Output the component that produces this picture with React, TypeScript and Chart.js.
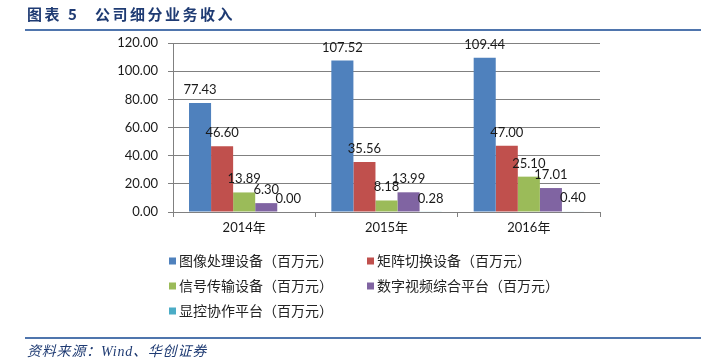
import React, { useEffect, useRef } from "react";
import { Chart, registerables } from "chart.js";

Chart.register(...registerables);

const categories = ["2014年", "2015年", "2016年"];
const seriesNames = [
  "图像处理设备（百万元）",
  "矩阵切换设备（百万元）",
  "信号传输设备（百万元）",
  "数字视频综合平台（百万元）",
  "显控协作平台（百万元）",
];
const imageProcessing = [77.43, 107.52, 109.44];
const matrixSwitching = [46.6, 35.56, 47.0];
const signalTransmission = [13.89, 8.18, 25.1];
const digitalVideo = [6.3, 13.99, 17.01];
const displayControl = [0.0, 0.28, 0.4];
const seriesColors = ["#4F81BD", "#C0504D", "#9BBB59", "#8064A2", "#4BACC6"];
const yMin = 0;
const yMax = 120;
const yStep = 20;

const TEXT_FONT = "Lato, 'Noto Sans CJK SC', sans-serif";
const CJK_FONT = "'Noto Sans CJK SC', sans-serif";

const valueLabelPlugin = {
  id: "valueLabels",
  afterDatasetsDraw(chart: any) {
    const ctx = chart.ctx;
    ctx.save();
    ctx.font = `13px ${TEXT_FONT}`;
    ctx.fillStyle = "#1a1a1a";
    ctx.textAlign = "center";
    ctx.textBaseline = "alphabetic";
    chart.data.datasets.forEach((ds: any, i: number) => {
      const meta = chart.getDatasetMeta(i);
      meta.data.forEach((el: any, j: number) => {
        const v = ds.data[j] as number;
        ctx.fillText(v.toFixed(2), el.x, el.y - 9);
      });
    });
    ctx.restore();
  },
};

const legendPlugin = {
  id: "gridLegend",
  afterDraw(chart: any) {
    const ctx = chart.ctx;
    const area = chart.chartArea;
    ctx.save();
    ctx.font = `14px ${CJK_FONT}`;
    ctx.textBaseline = "middle";
    ctx.textAlign = "left";
    chart.data.datasets.forEach((ds: any, i: number) => {
      const col = i % 2;
      const row = Math.floor(i / 2);
      const x = area.left - 4 + col * 198;
      const y = area.bottom + 49 + row * 25;
      ctx.fillStyle = ds.backgroundColor;
      ctx.fillRect(x, y - 3.5, 7, 7);
      ctx.fillStyle = "#222";
      ctx.fillText(ds.label, x + 10, y);
    });
    ctx.restore();
  },
};

export default function App() {
  const ref = useRef<HTMLCanvasElement>(null);
  useEffect(() => {
    if (!ref.current) return;
    const values = [imageProcessing, matrixSwitching, signalTransmission, digitalVideo, displayControl];
    const chart = new Chart(ref.current, {
      type: "bar",
      data: {
        labels: categories,
        datasets: values.map((d, i) => ({
          label: seriesNames[i],
          data: d,
          backgroundColor: seriesColors[i],
          borderWidth: 0,
          categoryPercentage: 0.775,
          barPercentage: 1,
        })),
      },
      options: {
        responsive: false,
        animation: false,
        devicePixelRatio: 1,
        layout: { padding: { top: 43, right: 122, left: 0, bottom: 0 } },
        plugins: {
          legend: { display: false },
          tooltip: { enabled: false },
          title: { display: false },
        },
        scales: {
          x: {
            grid: {
              offset: true,
              drawOnChartArea: false,
              drawTicks: true,
              tickLength: 5,
              color: "#808080",
            },
            border: { color: "#808080", width: 1 },
            ticks: {
              font: { size: 13, family: TEXT_FONT },
              color: "#1a1a1a",
              padding: 3,
            },
            afterFit(scale: any) {
              scale.height = 150;
            },
          },
          y: {
            min: yMin,
            max: yMax,
            ticks: {
              stepSize: yStep,
              font: { size: 13, family: TEXT_FONT },
              color: "#1a1a1a",
              padding: 10,
              callback: (v: any) => Number(v).toFixed(2),
            },
            grid: { color: "#808080", tickLength: 5 },
            border: { color: "#808080", width: 1 },
            afterFit(scale: any) {
              scale.width = 173;
            },
          },
        },
      },
      plugins: [valueLabelPlugin, legendPlugin],
    });
    return () => chart.destroy();
  }, []);

  const titleStyle: React.CSSProperties = {
    position: "absolute",
    top: 4,
    fontFamily: CJK_FONT,
    fontWeight: 700,
    fontSize: 15,
    letterSpacing: 2.5,
    color: "#1F3B73",
    whiteSpace: "pre",
    lineHeight: "20px",
  };

  return (
    <div
      style={{
        position: "fixed",
        left: 0,
        top: 0,
        width: 722,
        height: 362,
        background: "#fff",
        overflow: "hidden",
      }}
    >
      <canvas ref={ref} width={722} height={362} style={{ position: "absolute", left: 0, top: 0, width: 722, height: 362 }} />
      <div style={{ ...titleStyle, left: 27 }}>图表 5</div>
      <div style={{ ...titleStyle, left: 95 }}>公司细分业务收入</div>
      <div style={{ position: "absolute", left: 25, top: 29, width: 676, height: 2, background: "#4F75AD" }} />
      <div style={{ position: "absolute", left: 25, top: 337, width: 676, height: 2, background: "#4F75AD" }} />
      <div
        style={{
          position: "absolute",
          left: 27,
          top: 343,
          fontFamily: "'Liberation Serif', 'Noto Sans CJK SC', serif",
          fontStyle: "italic",
          fontSize: 14,
          letterSpacing: 0.8,
          color: "#1F3B73",
          whiteSpace: "pre",
          lineHeight: "18px",
        }}
      >
        资料来源：Wind、华创证券
      </div>
    </div>
  );
}
